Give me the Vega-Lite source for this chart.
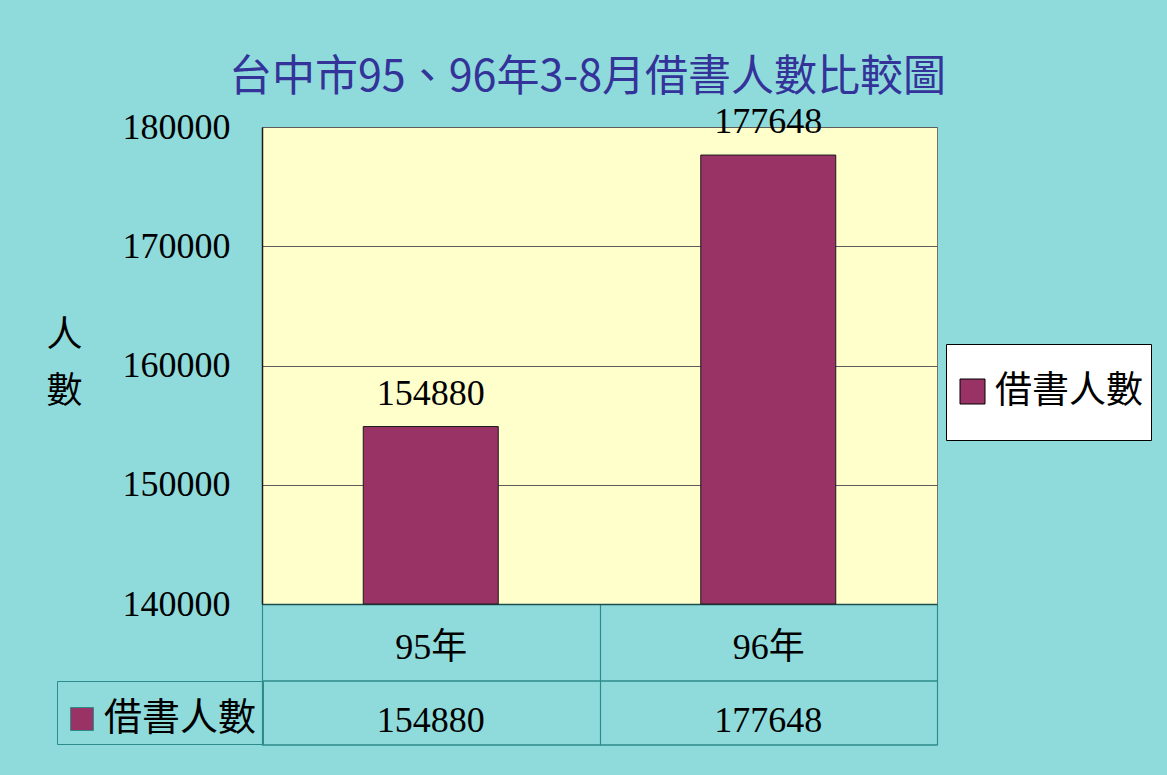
{
  "$schema": "https://vega.github.io/schema/vega-lite/v6.json",
  "width": 675,
  "height": 477,
  "autosize": {"type": "none"},
  "padding": {"left": 262, "top": 127, "right": 230, "bottom": 171},
  "background": "#8fdbdb",
  "title": {
    "text": "台中市95、96年3-8月借書人數比較圖",
    "font": "Noto Sans CJK TC",
    "fontSize": 43,
    "fontWeight": "normal",
    "color": "#333399",
    "anchor": "middle",
    "frame": "group",
    "baseline": "alphabetic",
    "offset": 12,
    "dy": 42,
    "dx": -12
  },
  "data": {
    "values": [
      {"year": "95年", "count": 154880, "series": "借書人數"},
      {"year": "96年", "count": 177648, "series": "借書人數"}
    ]
  },
  "layer": [
    {
      "mark": {"type": "bar", "stroke": "#1a1a1a", "strokeWidth": 1, "width": {"band": 0.4}},
      "encoding": {
        "x": {
          "field": "year",
          "type": "nominal",
          "sort": null,
          "scale": {"paddingInner": 0, "paddingOuter": 0},
          "axis": {
            "title": null,
            "orient": "bottom",
            "domainColor": "#1e4d4d",
            "domainWidth": 1.5,
            "tickBand": "extent",
            "tickSize": 141,
            "tickColor": "#2e8b8b",
            "tickWidth": 1.2,
            "labelPadding": -98,
            "labelBaseline": "middle",
            "labelAngle": 0,
            "labelFont": "Liberation Serif, Noto Sans CJK TC",
            "labelFontSize": 36,
            "labelColor": "#000000",
            "grid": false
          }
        },
        "y": {
          "field": "count",
          "type": "quantitative",
          "scale": {"domain": [140000, 180000], "zero": false, "nice": false},
          "axis": {
            "values": [140000, 150000, 160000, 170000, 180000],
            "format": "d",
            "domainColor": "#1a1a1a",
            "domainWidth": 1.5,
            "ticks": false,
            "grid": true,
            "gridColor": "#5c5c5c",
            "gridWidth": 1.2,
            "labelFont": "Liberation Serif",
            "labelFontSize": 36,
            "labelColor": "#000000",
            "labelPadding": 32,
            "labelFlush": false,
            "labelOverlap": false,
            "title": ["人", "數"],
            "titleAngle": 0,
            "titleX": -198,
            "titleY": 191,
            "titleAlign": "center",
            "titleBaseline": "top",
            "titleFont": "Noto Sans CJK TC",
            "titleFontSize": 36,
            "titleFontWeight": "normal",
            "titleColor": "#000000",
            "titleLineHeight": 56
          }
        },
        "y2": {"datum": 140000},
        "color": {
          "field": "series",
          "type": "nominal",
          "scale": {"range": ["#993366"]},
          "legend": {
            "title": " ",
            "titleFontSize": 13,
            "titlePadding": 8,
            "orient": "none",
            "legendX": 684,
            "legendY": 217,
            "fillColor": "#ffffff",
            "strokeColor": "#000000",
            "padding": 8,
            "symbolType": "M-1,-1H1V1H-1ZM0,3.08",
            "symbolSize": 625,
            "symbolStrokeColor": "#000000",
            "symbolStrokeWidth": 1,
            "symbolOpacity": 1,
            "labelFont": "Noto Sans CJK TC",
            "labelFontSize": 37,
            "labelColor": "#000000",
            "labelOffset": 4,
            "labelLimit": 300
          }
        }
      }
    },
    {
      "mark": {"type": "text", "baseline": "alphabetic", "dy": -22, "font": "Liberation Serif", "fontSize": 36, "color": "#000000"},
      "encoding": {
        "x": {"field": "year", "type": "nominal", "sort": null},
        "y": {"field": "count", "type": "quantitative"},
        "text": {"field": "count", "type": "quantitative", "format": "d"}
      }
    },
    {
      "mark": {"type": "rule", "strokeWidth": 1.2},
      "encoding": {
        "y": {"datum": 133543, "type": "quantitative"},
        "color": {
          "datum": "借書人數",
          "scale": {"range": ["#2e8b8b"]},
          "legend": {
            "title": " ",
            "titleFontSize": 10,
            "titlePadding": 3,
            "orient": "none",
            "legendX": -205,
            "legendY": 554,
            "strokeColor": "#2e8b8b",
            "padding": 6,
            "symbolType": "square",
            "symbolSize": 529,
            "labelFont": "Noto Sans CJK TC",
            "labelFontSize": 38,
            "labelColor": "#000000",
            "labelOffset": 3,
            "labelLimit": 300,
            "encode": {
              "symbols": {
                "update": {
                  "fill": {"value": "#993366"},
                  "stroke": {"value": "#000000"},
                  "strokeWidth": {"value": 1},
                  "opacity": {"value": 1},
                  "fillOpacity": {"value": 1}
                }
              }
            }
          }
        }
      }
    },
    {
      "mark": {"type": "rule", "color": "#2e8b8b", "strokeWidth": 1.2},
      "encoding": {
        "y": {"datum": 128176, "type": "quantitative"}
      }
    },
    {
      "mark": {"type": "text", "baseline": "middle", "dy": 117, "font": "Liberation Serif", "fontSize": 36, "color": "#000000"},
      "encoding": {
        "x": {"field": "year", "type": "nominal", "sort": null},
        "y": {"datum": 140000, "type": "quantitative"},
        "text": {"field": "count", "type": "quantitative", "format": "d"}
      }
    }
  ],
  "resolve": {"scale": {"color": "independent"}},
  "config": {
    "view": {"fill": "#ffffcc", "stroke": "#707070", "strokeWidth": 1}
  }
}
